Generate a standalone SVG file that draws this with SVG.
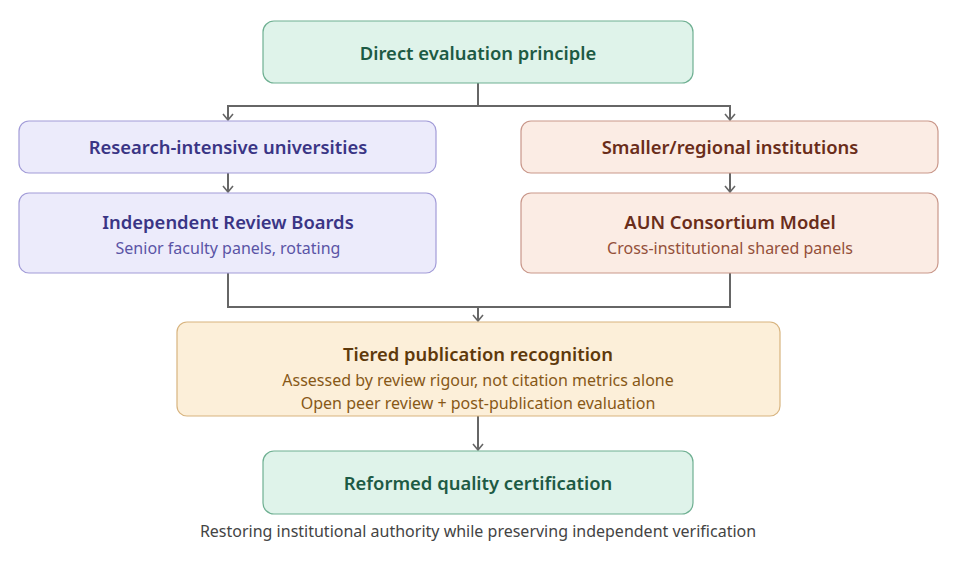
<svg xmlns="http://www.w3.org/2000/svg" width="960" height="561" viewBox="0 0 960 561">
<defs>
<marker id="arr" viewBox="0 0 12 12" refX="11" refY="6" markerWidth="12" markerHeight="12" markerUnits="userSpaceOnUse" orient="auto">
<path d="M5,1 L11,6 L5,11" fill="none" stroke="#666" stroke-width="1.6"/>
</marker>
<style>
text{font-family:"Noto Sans","Open Sans","Liberation Sans",sans-serif;text-anchor:middle}
.t{font-size:18.4px;font-weight:600}
.s{font-size:16px}
.c{fill:none;stroke:#666;stroke-width:2}
.green rect{fill:#dff3ea;stroke:#6fb092;stroke-width:1.2}
.green text{fill:#1d5a44}
.purple rect{fill:#ecebfb;stroke:#a29cd8;stroke-width:1.2}
.purple .t{fill:#3a3585}
.purple .s{fill:#5a54a6}
.peach rect{fill:#fbece4;stroke:#c9978a;stroke-width:1.2}
.peach .t{fill:#6a2d1a}
.peach .s{fill:#94503a}
.sand rect{fill:#fcefd9;stroke:#d8b47f;stroke-width:1.2}
.sand .t{fill:#5e390b}
.sand .s{fill:#875817}
</style>
</defs>
<g id="connectors">
<path class="c" d="M478,83 V106 H228 V120" marker-end="url(#arr)"/>
<path class="c" d="M478,106 H730 V120" marker-end="url(#arr)"/>
<path class="c" d="M228,173 V192" marker-end="url(#arr)"/>
<path class="c" d="M730,173 V192" marker-end="url(#arr)"/>
<path class="c" d="M228,273 V307 H730 V273"/>
<path class="c" d="M478,307 V321" marker-end="url(#arr)"/>
<path class="c" d="M478,416 V450" marker-end="url(#arr)"/>
</g>
<g id="n-direct" class="green">
<rect x="263" y="21" width="430" height="62" rx="11"/>
<text class="t" x="478" y="60">Direct evaluation principle</text>
</g>
<g id="n-research" class="purple">
<rect x="19" y="121" width="417" height="52" rx="10"/>
<text class="t" x="228" y="154">Research-intensive universities</text>
</g>
<g id="n-irb" class="purple">
<rect x="19" y="193" width="417" height="80" rx="10"/>
<text class="t" x="228" y="229">Independent Review Boards</text>
<text class="s" x="228" y="254">Senior faculty panels, rotating</text>
</g>
<g id="n-smaller" class="peach">
<rect x="521" y="121" width="417" height="52" rx="10"/>
<text class="t" x="730" y="154">Smaller/regional institutions</text>
</g>
<g id="n-aun" class="peach">
<rect x="521" y="193" width="417" height="80" rx="10"/>
<text class="t" x="730" y="229">AUN Consortium Model</text>
<text class="s" x="730" y="254">Cross-institutional shared panels</text>
</g>
<g id="n-tiered" class="sand">
<rect x="177" y="322" width="603" height="94" rx="10"/>
<text class="t" x="478" y="361">Tiered publication recognition</text>
<text class="s" x="478" y="386">Assessed by review rigour, not citation metrics alone</text>
<text class="s" x="478" y="409">Open peer review + post-publication evaluation</text>
</g>
<g id="n-reformed" class="green">
<rect x="263" y="451" width="430" height="63" rx="11"/>
<text class="t" x="478" y="490">Reformed quality certification</text>
</g>
<text x="478" y="537" style="font-size:16px;fill:#444">Restoring institutional authority while preserving independent verification</text>
</svg>
